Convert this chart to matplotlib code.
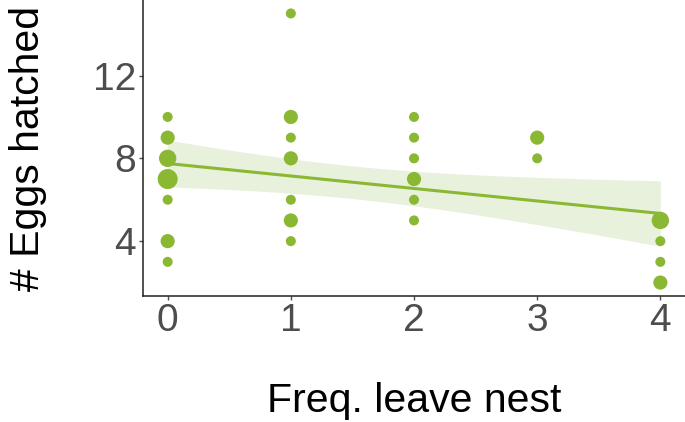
import numpy as np
import matplotlib
matplotlib.use("Agg")
import matplotlib.pyplot as plt

plt.rcParams['font.family'] = ['Liberation Sans', 'DejaVu Sans']

# counted observations: (freq. leave nest, eggs hatched, number of nests)
freq_leave = [0, 0, 0, 0, 0, 0, 0,
              1, 1, 1, 1, 1, 1, 1,
              2, 2, 2, 2, 2, 2,
              3, 3,
              4, 4, 4, 4]
eggs = [10, 9, 8, 7, 6, 4, 3,
        15, 10, 9, 8, 6, 5, 4,
        10, 9, 8, 7, 6, 5,
        9, 8,
        5, 4, 3, 2]
n_obs = [1, 2, 3, 4, 1, 2, 1,
         1, 2, 1, 2, 1, 2, 1,
         1, 1, 1, 2, 1, 1,
         2, 1,
         3, 1, 1, 2]

green = '#8AB833'
band = '#E8F1DC'

# linear fit on the expanded data, 95% interval
xs = np.repeat(freq_leave, n_obs).astype(float)
ys = np.repeat(eggs, n_obs).astype(float)
N = len(xs)
slope, inter = np.polyfit(xs, ys, 1)
resid = ys - (inter + slope * xs)
s = np.sqrt(np.sum(resid ** 2) / (N - 2))
sxx = np.sum((xs - xs.mean()) ** 2)
t_crit = 2.0227  # t(0.975, df=39)
xg = np.linspace(0, 4, 80)
yg = inter + slope * xg
se = s * np.sqrt(1 / N + (xg - xs.mean()) ** 2 / sxx)

fig = plt.figure(figsize=(6.85, 4.22), dpi=100)
ax = fig.add_axes([0.2088, 0.2986, 0.7912, 0.7014])

ax.fill_between(xg, yg - t_crit * se, yg + t_crit * se, color=band, lw=0, zorder=1)
ax.plot(xg, yg, color=green, lw=2.2, zorder=2)
ax.scatter(freq_leave, eggs, s=[52 * n for n in n_obs], color=green, lw=0, zorder=3)

ax.set_xlim(-0.2, 4.2)
ax.set_ylim(1.35, 15.65)
ax.set_xticks([0, 1, 2, 3, 4])
ax.set_yticks([4, 8, 12])
ax.tick_params(labelsize=28, colors='#4D4D4D', length=3, width=1, pad=2)
for sp in ['top', 'right']:
    ax.spines[sp].set_visible(False)
for sp in ['left', 'bottom']:
    ax.spines[sp].set_linewidth(1.1)
    ax.spines[sp].set_color('#222222')

ax.set_xlabel('Freq. leave nest', fontsize=29.5, labelpad=31)
ax.set_ylabel('# Eggs hatched', fontsize=29.5, labelpad=33)

fig.savefig('out.png', dpi=100)
